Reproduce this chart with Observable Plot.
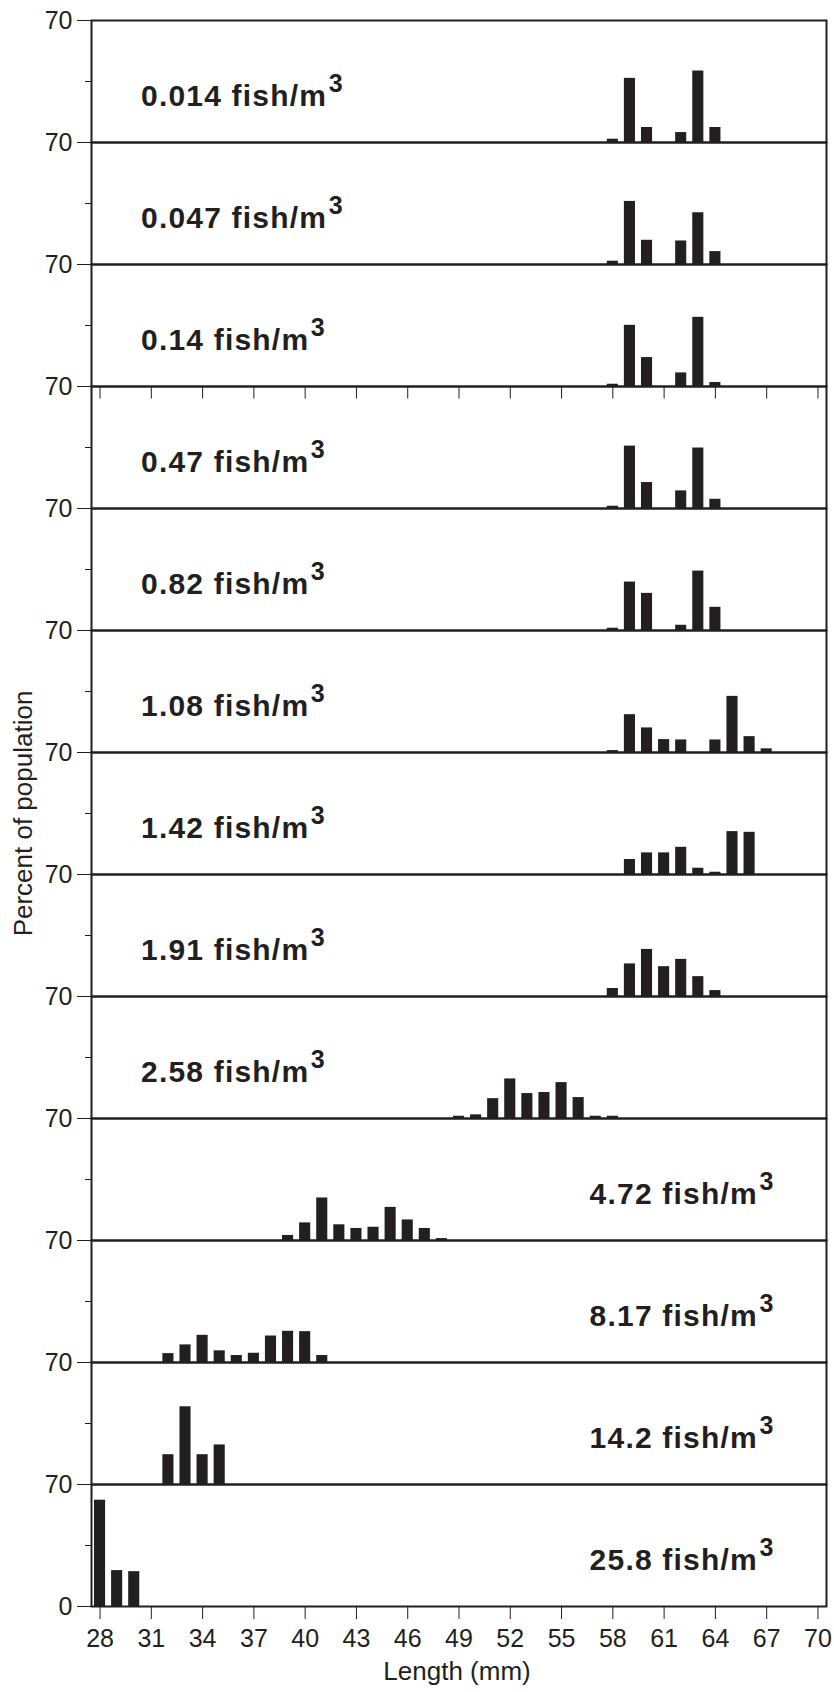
<!DOCTYPE html>
<html>
<head>
<meta charset="utf-8">
<script src="https://cdn.jsdelivr.net/npm/d3@7"></script>
<script src="https://cdn.jsdelivr.net/npm/@observablehq/plot@0.6"></script>
<style>
  html, body { margin: 0; padding: 0; background: #fff; }
</style>
</head>
<body>
<div id="chart"></div>
<script>
// Stocking densities (fish/m³), top to bottom
const densities = ["0.014", "0.047", "0.14", "0.47", "0.82", "1.08", "1.42", "1.91", "2.58", "4.72", "8.17", "14.2", "25.8"];

// Length classes (mm) and percent of population, per density
const len1 = [58, 59, 60, 62, 63, 64];
const pct1 = [1.9, 36.8, 8.6, 5.7, 41.0, 8.6];
const len2 = [58, 59, 60, 62, 63, 64];
const pct2 = [1.9, 36.2, 13.9, 13.5, 29.7, 7.4];
const len3 = [58, 59, 60, 62, 63, 64];
const pct3 = [1.3, 35.1, 16.6, 7.8, 39.7, 2.3];
const len4 = [58, 59, 60, 62, 63, 64];
const pct4 = [1.3, 35.8, 14.9, 10.1, 34.7, 5.3];
const len5 = [58, 59, 60, 62, 63, 64];
const pct5 = [1.3, 27.8, 21.3, 3.0, 34.1, 13.3];
const len6 = [58, 59, 60, 61, 62, 64, 65, 66, 67];
const pct6 = [1.1, 21.7, 14.1, 7.4, 7.2, 7.2, 32.2, 9.1, 2.1];
const len7 = [59, 60, 61, 62, 63, 64, 65, 66];
const pct7 = [8.6, 12.4, 12.4, 15.6, 3.6, 1.3, 24.6, 24.2];
const len8 = [58, 59, 60, 61, 62, 63, 64];
const pct8 = [4.6, 18.7, 27.0, 17.1, 21.3, 11.4, 3.4];
const len9 = [49, 50, 51, 52, 53, 54, 55, 56, 57, 58];
const pct9 = [1.3, 2.1, 11.4, 22.7, 14.3, 14.9, 20.6, 12.0, 1.3, 1.3];
const len10 = [39, 40, 41, 42, 43, 44, 45, 46, 47, 48];
const pct10 = [2.9, 10.1, 24.4, 9.0, 6.9, 7.6, 19.0, 11.8, 6.9, 1.1];
const len11 = [32, 33, 34, 35, 36, 37, 38, 39, 40, 41];
const pct11 = [5.1, 10.1, 15.6, 6.7, 4.0, 5.3, 15.2, 17.9, 17.7, 4.0];
const len12 = [32, 33, 34, 35];
const pct12 = [17.1, 44.6, 17.1, 22.7];
const len13 = [28, 29, 30];
const pct13 = [61.0, 20.6, 20.0];

// Axis tick values
const xTicks = [28, 31, 34, 37, 40, 43, 46, 49, 52, 55, 58, 61, 64, 67, 70];
const yTickTop = [70];
const yTickMid = [35];
const yTickZero = [0];

const lens = [len1, len2, len3, len4, len5, len6, len7, len8, len9, len10, len11, len12, len13];
const pcts = [pct1, pct2, pct3, pct4, pct5, pct6, pct7, pct8, pct9, pct10, pct11, pct12, pct13];
const bars = densities.flatMap((d, i) => lens[i].map((L, j) => ({density: d, len: L, pct: pcts[i][j]})));
const leftLabels = densities.slice(0, 9);
const rightLabels = densities.slice(9);

const ink = "#231f20";
const font = "'Liberation Sans', Arial, Helvetica, sans-serif";

const chart = Plot.plot({
  width: 834,
  height: 1692,
  marginLeft: 91,
  marginRight: 8,
  marginTop: 17,
  marginBottom: 83,
  style: {fontFamily: font, fontSize: "25px", color: ink, background: "#fff", overflow: "visible"},
  x: {type: "linear", domain: [27.5, 70.5], axis: null},
  y: {domain: [0, 70], axis: null},
  fy: {domain: densities, padding: 0, axis: null},
  marks: [
    Plot.rect(bars, {
      x1: d => d.len - 0.5, x2: d => d.len + 0.5,
      y1: 0, y2: "pct", fy: "density",
      fill: ink, insetLeft: 3, insetRight: 3
    }),
    Plot.frame({stroke: ink, strokeWidth: 2}),
    // ticks at the bottom of the third panel (separate sub-figure)
    Plot.tickX(xTicks, {x: d => d, fy: () => densities[3], stroke: ink, strokeWidth: 1, insetBottom: 109.5}),
    Plot.axisY(yTickTop, {tickSize: 14, tickPadding: 5, fontSize: 25, stroke: ink, fill: ink, label: null}),
    Plot.axisY(yTickMid, {tickSize: 6, fill: "none", stroke: ink, label: null}),
    Plot.axisY(yTickZero, {tickSize: 14, tickPadding: 5, fontSize: 25, stroke: ink, fill: ink, label: null, facetAnchor: "bottom"}),
    Plot.axisX(xTicks, {anchor: "bottom", tickSize: 13, tickPadding: 10, fontSize: 25, stroke: ink, fill: ink, label: null}),
    Plot.text(leftLabels, {
      fy: d => d, text: d => d + " fish/m",
      frameAnchor: "bottom-left", textAnchor: "start", lineAnchor: "bottom",
      dx: 49.5, dy: -36.7, fontSize: 30, fontWeight: "bold", fill: ink
    }),
    Plot.text(rightLabels, {
      fy: d => d, text: d => d + " fish/m",
      frameAnchor: "bottom-right", textAnchor: "end", lineAnchor: "bottom",
      dx: -52, dy: -36.7, fontSize: 30, fontWeight: "bold", fill: ink
    }),
    Plot.text(["Percent of population"], {
      facet: "super", frameAnchor: "left", rotate: -90, dx: -68,
      textAnchor: "middle", lineAnchor: "middle", fontSize: 26, fill: ink
    }),
    Plot.text(["Length (mm)"], {
      facet: "super", frameAnchor: "bottom", dx: -2, dy: 73,
      textAnchor: "middle", lineAnchor: "bottom", fontSize: 26, fill: ink
    })
  ]
});

// superscript "3" on the density labels, slightly wider tracking as in the reference
d3.select(chart).selectAll("text").each(function () {
  if (this.textContent.endsWith(" fish/m")) {
    const t = d3.select(this).style("letter-spacing", "1.2px");
    t.append("tspan").attr("dx", 1.5).attr("dy", -14).attr("font-size", 25).text("3");
  }
});

document.getElementById("chart").appendChild(chart);
</script>
</body>
</html>
